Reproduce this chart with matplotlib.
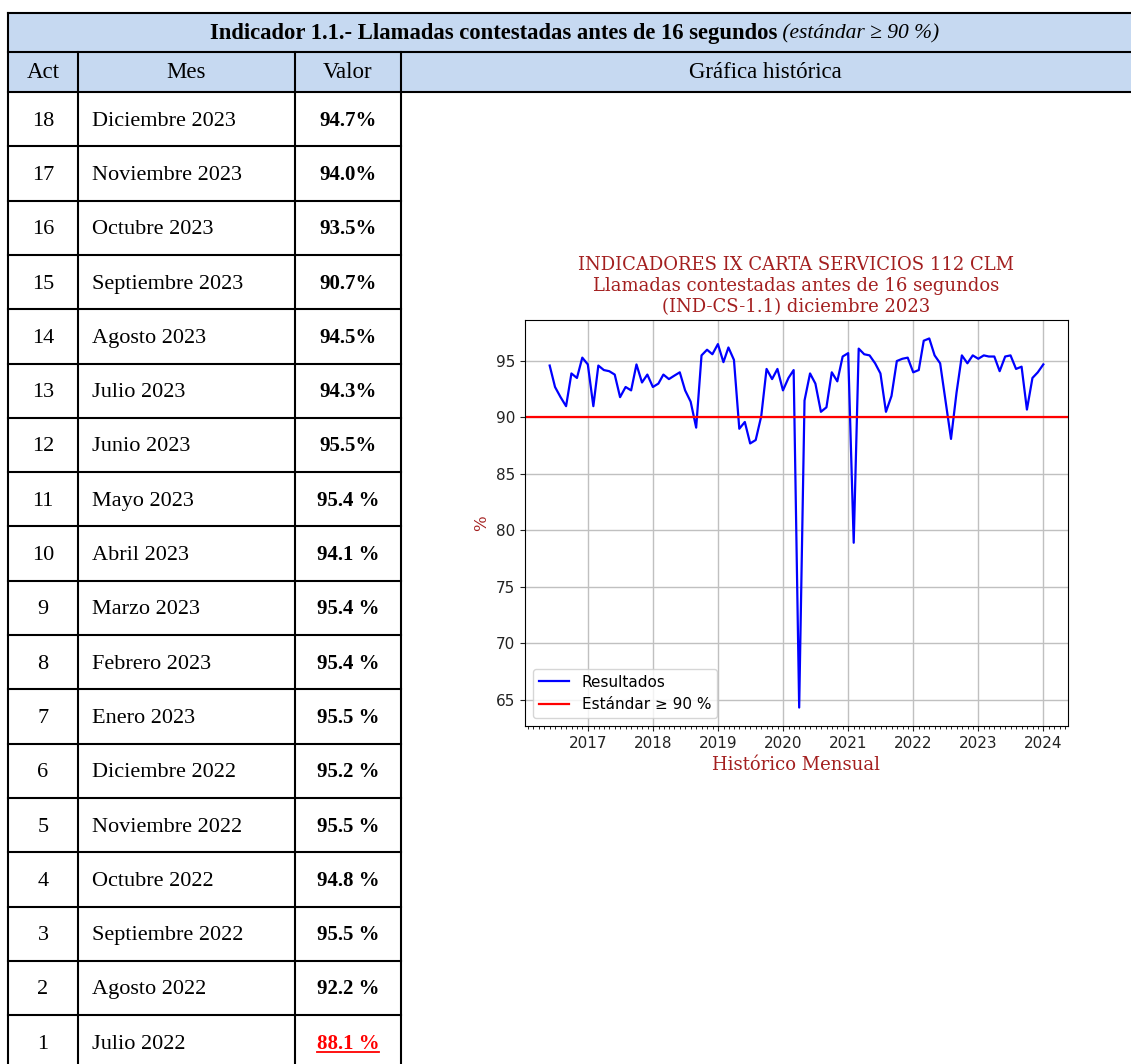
import matplotlib
matplotlib.use("Agg")
import matplotlib.pyplot as plt
import matplotlib.dates as mdates
from matplotlib.patches import Rectangle
import pandas as pd

# ---------------- data ----------------
acts = list(range(18, 0, -1))
meses = ["Diciembre 2023", "Noviembre 2023", "Octubre 2023", "Septiembre 2023",
         "Agosto 2023", "Julio 2023", "Junio 2023", "Mayo 2023", "Abril 2023",
         "Marzo 2023", "Febrero 2023", "Enero 2023", "Diciembre 2022",
         "Noviembre 2022", "Octubre 2022", "Septiembre 2022", "Agosto 2022",
         "Julio 2022"]
valores = ["94.7%", "94.0%", "93.5%", "90.7%", "94.5%", "94.3%", "95.5%",
           "95.4 %", "94.1 %", "95.4 %", "95.4 %", "95.5 %", "95.2 %",
           "95.5 %", "94.8 %", "95.5 %", "92.2 %", "88.1 %"]
incumple = [False] * 17 + [True]

serie_inicio = "2016-05-31"
resultados = [
    # 2016 (may-dic)
    94.6, 92.7, 91.8, 91.0, 93.9, 93.5, 95.3, 94.7,
    # 2017
    91.0, 94.6, 94.2, 94.1, 93.8, 91.8, 92.7, 92.4, 94.7, 93.1, 93.8, 92.7,
    # 2018
    93.0, 93.8, 93.4, 93.7, 94.0, 92.4, 91.4, 89.1, 95.5, 96.0, 95.6, 96.5,
    # 2019
    94.9, 96.2, 95.1, 89.0, 89.6, 87.7, 88.0, 90.1, 94.3, 93.4, 94.3, 92.4,
    # 2020
    93.5, 94.2, 64.3, 91.5, 93.9, 93.0, 90.5, 90.9, 94.0, 93.2, 95.4, 95.7,
    # 2021
    78.9, 96.1, 95.6, 95.5, 94.8, 93.9, 90.5, 91.9, 95.0, 95.2, 95.3, 94.0,
    # 2022
    94.2, 96.8, 97.0, 95.5, 94.8, 91.5, 88.1, 92.2, 95.5, 94.8, 95.5, 95.2,
    # 2023
    95.5, 95.4, 95.4, 94.1, 95.4, 95.5, 94.3, 94.5, 90.7, 93.5, 94.0, 94.7,
]
estandar = 90

titulo = ("INDICADORES IX CARTA SERVICIOS 112 CLM\n"
          "Llamadas contestadas antes de 16 segundos\n"
          "(IND-CS-1.1) diciembre 2023")

# ---------------- figure ----------------
W, H, DPI = 1131, 1064, 100
fig = plt.figure(figsize=(W / DPI, H / DPI), dpi=DPI)
fig.patch.set_facecolor("white")

bg = fig.add_axes([0, 0, 1, 1])
bg.set_xlim(0, W)
bg.set_ylim(H, 0)
bg.axis("off")

SERIF = ["Liberation Serif", "DejaVu Serif"]
FS_HEAD = 16.5
FS_MES = 16
FS_VAL = 15
HEAD_BLUE = "#c6d9f1"
LW = 1.5

x_cols = [8, 78, 295, 401, W + 5]
y_top, y_h1, y_h2 = 13, 52, 92
row_h = 54.3
n = len(acts)
y_bottom = y_h2 + row_h * n

bg.add_patch(Rectangle((x_cols[0], y_top), x_cols[-1] - x_cols[0], y_h2 - y_top,
                       facecolor=HEAD_BLUE, edgecolor="none", zorder=0))

# horizontal lines
for y in (y_top, y_h1, y_h2):
    bg.plot([x_cols[0], x_cols[-1]], [y, y], color="k", lw=LW, solid_capstyle="projecting")
for i in range(1, n + 1):
    y = y_h2 + row_h * i
    bg.plot([x_cols[0], x_cols[3]], [y, y], color="k", lw=LW, solid_capstyle="projecting")
# vertical lines
bg.plot([x_cols[0], x_cols[0]], [y_top, y_bottom], color="k", lw=LW)
for xc in x_cols[1:4]:
    bg.plot([xc, xc], [y_h1, y_bottom], color="k", lw=LW)

# header row 1 (bold + italic)
yb1 = (y_top + y_h1) / 2 + 6
t1 = bg.text(0, yb1, "Indicador 1.1.- Llamadas contestadas antes de 16 segundos",
             family=SERIF, fontsize=16.3, fontweight="bold", ha="left", va="baseline")
t2 = bg.text(0, yb1, " (estándar ≥ 90 %)", family=SERIF, fontsize=15.5,
             fontstyle="italic", ha="left", va="baseline")
fig.canvas.draw()
r = fig.canvas.get_renderer()
w1 = t1.get_window_extent(r).width
w2 = t2.get_window_extent(r).width
x0 = 574.5 - (w1 + w2) / 2
t1.set_x(x0)
t2.set_x(x0 + w1)

# header row 2
yb2 = (y_h1 + y_h2) / 2 + 6.5
heads = ["Act", "Mes", "Valor", "Gráfica histórica"]
head_x = [(x_cols[0] + x_cols[1]) / 2, (x_cols[1] + x_cols[2]) / 2,
          (x_cols[2] + x_cols[3]) / 2, (x_cols[3] + 1130) / 2]
for h, xc in zip(heads, head_x):
    bg.text(xc, yb2, h, family=SERIF, fontsize=FS_HEAD, ha="center", va="baseline")

# data rows
underline_texts = []
for i in range(n):
    yc = y_h2 + row_h * (i + 0.5)
    yb = yc + 6.5
    bg.text((x_cols[0] + x_cols[1]) / 2, yb, str(acts[i]), family=SERIF,
            fontsize=FS_MES, ha="center", va="baseline")
    bg.text(x_cols[1] + 14, yb, meses[i], family=SERIF, fontsize=FS_MES,
            ha="left", va="baseline")
    col = "#ff0000" if incumple[i] else "black"
    tv = bg.text((x_cols[2] + x_cols[3]) / 2, yb, valores[i], family=SERIF,
                 fontsize=FS_VAL, fontweight="bold", color=col, ha="center", va="baseline")
    if incumple[i]:
        underline_texts.append((tv, yb))

fig.canvas.draw()
for tv, yb in underline_texts:
    bb = tv.get_window_extent(r)
    bg.plot([bb.x0, bb.x1], [yb + 3, yb + 3], color="#ff0000", lw=1.3)

# ---------------- chart ----------------
fechas = pd.date_range(serie_inicio, periods=len(resultados), freq=pd.offsets.MonthEnd())
dark_red = "#a31f1f"

ax = fig.add_axes([525 / W, 1 - 726 / H, (1068 - 525) / W, (726 - 320) / H])
ax.plot(fechas, resultados, color="blue", lw=1.6, label="Resultados")
ax.axhline(estandar, color="red", lw=1.6, label="Estándar ≥ 90 %")
ax.grid(True, color="#c0c0c0", lw=1.0)
ax.set_axisbelow(True)
ax.xaxis.set_major_locator(mdates.YearLocator())
ax.xaxis.set_major_formatter(mdates.DateFormatter("%Y"))
ax.xaxis.set_minor_locator(mdates.MonthLocator())
ax.tick_params(axis="both", labelsize=11, colors="#222222")
ax.set_title(titulo, color=dark_red, family="DejaVu Serif", fontsize=13,
             linespacing=1.2)
ax.set_xlabel("Histórico Mensual", color=dark_red, family="DejaVu Serif", fontsize=13)
ax.set_ylabel("%", color=dark_red, family="DejaVu Serif", fontsize=12)
ax.legend(loc="lower left", fontsize=11)

fig.savefig("out.png", dpi=DPI, facecolor="white")
